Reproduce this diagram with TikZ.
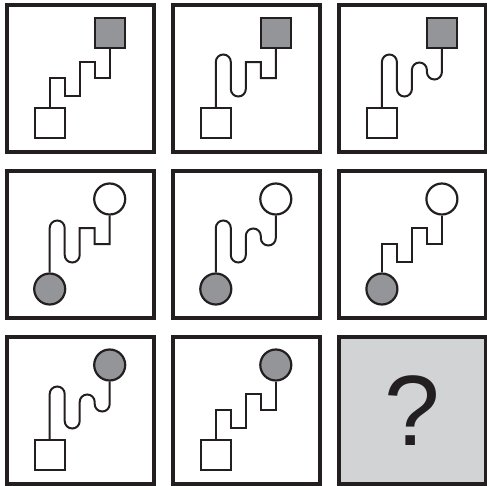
\documentclass[tikz,border=0pt]{standalone}
\usepackage{fontspec}
\setsansfont{Liberation Sans}
\usetikzlibrary{positioning}
\definecolor{ink}{HTML}{231F20}
\definecolor{shade}{HTML}{939598}
\definecolor{pale}{HTML}{D1D3D4}
% connector halves, in panel coordinates
\newcommand{\stairL}{-- (43,73) -- (58,73) -- (58,91) -- (73,91)}
\newcommand{\waveL}{-- (43,57) arc[start angle=180, end angle=360, radius=7.5] -- (58,84) arc[start angle=180, end angle=0, radius=7.5]}
\newcommand{\stairR}{-- (73,57) -- (88,57) -- (88,73) -- (103,73)}
\newcommand{\waveR}{-- (73,65) arc[start angle=180, end angle=360, radius=7.5] -- (88,67) arc[start angle=180, end angle=0, radius=7.5]}
\begin{document}
\begin{tikzpicture}[
    x=1pt, y=-1pt,
    panel/.style={draw=ink, line width=3.6pt, fill=white},
    sqbox/.style={draw=ink, rectangle, line width=2.2pt, minimum size=30pt, inner sep=0pt},
    ring/.style={draw=ink, circle, line width=2.2pt, minimum size=31pt, inner sep=0pt},
    wire/.style={draw=ink, line width=2pt}
]
\useasboundingbox (0,0) rectangle (487,485);

% row 1
\begin{scope}[shift={(6.7,5)}]
\draw[panel] (0,0) rectangle (147,147);
\node[sqbox, fill=white] (b1) at (43,118) {};
\node[sqbox, fill=shade] (t1) at (103,28) {};
\draw[wire] (b1.north) \stairL \stairR -- (t1.south);
\end{scope}
\begin{scope}[shift={(172.8,5)}]
\draw[panel] (0,0) rectangle (147,147);
\node[sqbox, fill=white] (b2) at (43,118) {};
\node[sqbox, fill=shade] (t2) at (103,28) {};
\draw[wire] (b2.north) \waveL \stairR -- (t2.south);
\end{scope}
\begin{scope}[shift={(338.9,5)}]
\draw[panel] (0,0) rectangle (147,147);
\node[sqbox, fill=white] (b3) at (43,118) {};
\node[sqbox, fill=shade] (t3) at (103,28) {};
\draw[wire] (b3.north) \waveL \waveR -- (t3.south);
\end{scope}

% row 2
\begin{scope}[shift={(6.7,171)}]
\draw[panel] (0,0) rectangle (147,147);
\node[ring, fill=shade] (b4) at (43,118) {};
\node[ring, fill=white] (t4) at (103,28) {};
\draw[wire] (b4.north) \waveL \stairR -- (t4.south);
\end{scope}
\begin{scope}[shift={(172.8,171)}]
\draw[panel] (0,0) rectangle (147,147);
\node[ring, fill=shade] (b5) at (43,118) {};
\node[ring, fill=white] (t5) at (103,28) {};
\draw[wire] (b5.north) \waveL \waveR -- (t5.south);
\end{scope}
\begin{scope}[shift={(338.9,171)}]
\draw[panel] (0,0) rectangle (147,147);
\node[ring, fill=shade] (b6) at (43,118) {};
\node[ring, fill=white] (t6) at (103,28) {};
\draw[wire] (b6.north) \stairL \stairR -- (t6.south);
\end{scope}

% row 3
\begin{scope}[shift={(6.7,337)}]
\draw[panel] (0,0) rectangle (147,147);
\node[sqbox, fill=white] (b7) at (43,118) {};
\node[ring, fill=shade] (t7) at (103,28) {};
\draw[wire] (b7.north) \waveL \waveR -- (t7.south);
\end{scope}
\begin{scope}[shift={(172.8,337)}]
\draw[panel] (0,0) rectangle (147,147);
\node[sqbox, fill=white] (b8) at (43,118) {};
\node[ring, fill=shade] (t8) at (103,28) {};
\draw[wire] (b8.north) \stairL \stairR -- (t8.south);
\end{scope}
\begin{scope}[shift={(338.9,337)}]
\draw[panel, fill=pale] (0,0) rectangle (147,147);
\node[font=\sffamily\fontsize{100}{100}\selectfont, text=ink] (q) at (73.5,73.5) {?};
\end{scope}
\end{tikzpicture}
\end{document}
